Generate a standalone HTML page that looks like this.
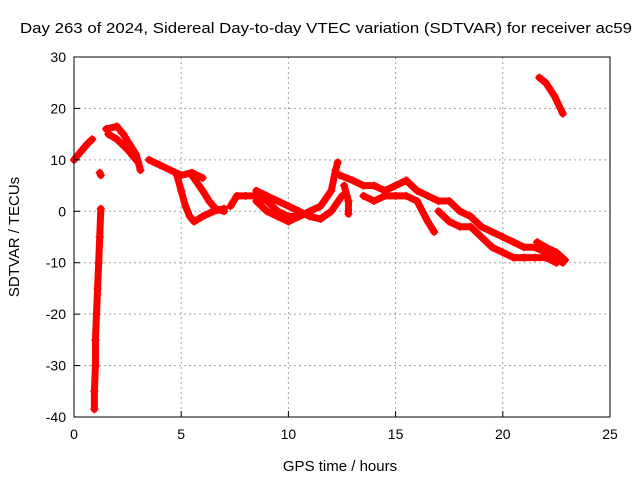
<!DOCTYPE html>
<html><head><meta charset="utf-8"><style>
body{margin:0;background:#fff}
svg{font-family:"Liberation Sans",sans-serif}
</style></head><body>
<svg width="640" height="480" xmlns="http://www.w3.org/2000/svg">
<text x="20" y="33" font-size="15" textLength="612" lengthAdjust="spacingAndGlyphs">Day 263 of 2024, Sidereal Day-to-day VTEC variation (SDTVAR) for receiver ac59</text>
<g id="grid"></g><g id="marks"></g><g id="axes"></g>
<text x="340" y="471" font-size="15" text-anchor="middle">GPS time / hours</text>
<text transform="translate(19,237) rotate(-90)" font-size="15" text-anchor="middle">SDTVAR / TECUs</text>
</svg>
<script>
const xTicks=[0,5,10,15,20,25];
const yTicks=[-40,-30,-20,-10,0,10,20,30];
const tracks=[
 [[0,10],[0.3,11.5],[0.6,13],[0.85,14]],
 [[1.25,0.5],[1.2,-5],[1.15,-10],[1.1,-15],[1.05,-20],[1.0,-25],[1.0,-30],[0.95,-35],[0.95,-38.5]],
 [[1.5,16],[2,16.5],[2.3,15],[2.6,13],[2.9,11],[3.1,8]],
 [[1.6,15],[2.0,14],[2.5,12],[3.0,9.5]],
 [[3.5,10],[4,9],[4.5,8],[5,7],[5.5,7.5],[6,6.5]],
 [[4.8,7],[5.0,4],[5.2,1],[5.4,-1],[5.6,-2],[6,-1],[6.5,0],[7,0.5]],
 [[5.5,7],[6,4],[6.3,2],[6.6,0.5],[7,0]],
 [[7.3,1],[7.6,3],[8,3],[8.5,3],[9,2],[9.5,0],[10,-1],[10.5,-1],[11,0],[11.5,1],[12,4],[12.2,8],[12.3,9.5]],
 [[8.5,4],[9,3],[9.5,2],[10,1],[10.5,0],[11,-1],[11.5,-1.5],[12,0],[12.5,3]],
 [[8.5,2],[9,0],[9.5,-1],[10,-2],[10.5,-1]],
 [[12.4,7],[13,6],[13.5,5],[14,5],[14.5,4],[15,5],[15.5,6],[16,4],[16.5,3],[17,2],[17.5,2],[18,0],[18.5,-1],[19,-3],[19.5,-4],[20,-5],[20.5,-6],[21,-7],[21.5,-7],[22,-8],[22.5,-9],[22.8,-10]],
 [[12.6,5],[12.8,2],[12.8,-0.5]],
 [[13.5,3],[14,2],[14.5,3],[15,3],[15.5,3],[16,2],[16.5,-2],[16.8,-4]],
 [[17,0],[17.5,-2],[18,-3],[18.5,-3],[19,-5],[19.5,-7],[20,-8],[20.5,-9],[21,-9],[21.5,-9],[22,-9],[22.5,-10]],
 [[21.6,-6],[22,-7],[22.5,-8],[22.9,-9.5]],
 [[1.2,7.5],[1.25,7]],
 [[21.7,26],[22,25],[22.4,22.5],[22.8,19]]
];
const L=74,R=610,T=57,B=417;
const X=h=>L+(h-0)/25*(R-L), Y=v=>T+(30-v)/70*(B-T);
const NS="http://www.w3.org/2000/svg";
function mk(t,a,p){const e=document.createElementNS(NS,t);for(const k in a)e.setAttribute(k,a[k]);p.appendChild(e);return e;}
const grid=document.getElementById('grid'),marks=document.getElementById('marks'),axes=document.getElementById('axes');
xTicks.forEach(t=>{
 const g=mk('line',{x1:X(t),x2:X(t),y1:T,y2:B,stroke:'#a0a0a0','stroke-dasharray':'2,3'},grid);
 
 
 const k=mk('line',{x1:X(t),x2:X(t),y1:B,y2:B-6,stroke:'#000'},axes);
 
 
 const l=mk('text',{x:X(t),y:B+22,'font-size':14,'text-anchor':'middle'},axes);l.textContent=t;
 
 
});
yTicks.forEach(t=>{
 const g=mk('line',{x1:L,x2:R,y1:Y(t),y2:Y(t),stroke:'#a0a0a0','stroke-dasharray':'2,3'},grid);
 
 
 const k=mk('line',{x1:L,x2:L+6,y1:Y(t),y2:Y(t),stroke:'#000'},axes);
 
 
 const l=mk('text',{x:L-8,y:Y(t)+5,'font-size':14,'text-anchor':'end'},axes);l.textContent=t;
 
 
});
const frame=mk('rect',{x:L,y:T,width:R-L,height:B-T,fill:'none',stroke:'#000'},axes);


tracks.forEach(tr=>{
 const pl=mk('polyline',{points:tr.map(p=>X(p[0])+','+Y(p[1])).join(' '),fill:'none',stroke:'#f00','stroke-width':7,'stroke-linejoin':'round','stroke-linecap':'round'},marks);
 
 
 tr.forEach(p=>{
  const m=mk('path',{d:`M${X(p[0])-4},${Y(p[1])}h8M${X(p[0])},${Y(p[1])-4}v8`,stroke:'#f00','stroke-width':1.5},marks);
  
  
 });
});
</script>
</body></html>
